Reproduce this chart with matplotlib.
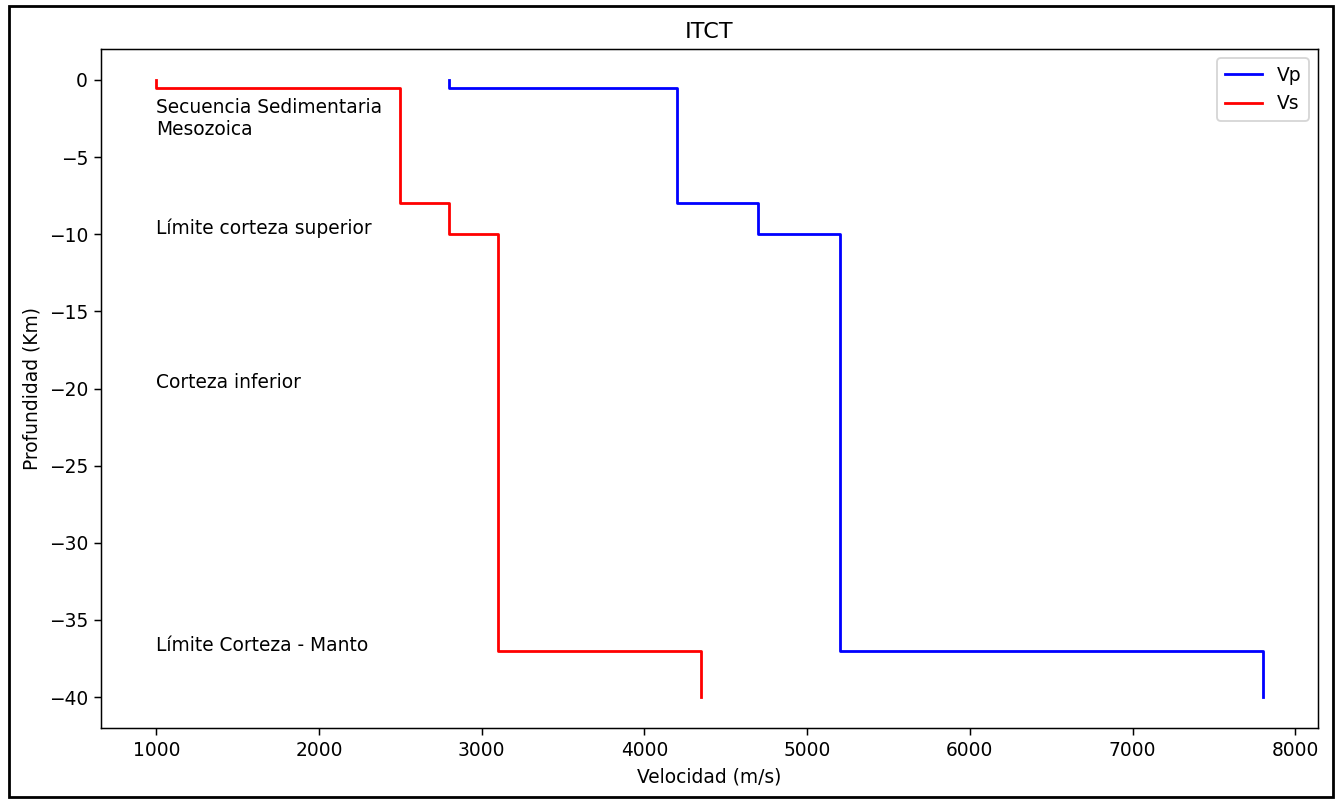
import matplotlib.pyplot as plt
import numpy as np
from matplotlib.patches import Rectangle

# Layer boundaries (km) and velocities (m/s)
profundidad = [0, -0.5, -8, -10, -37, -40]
vp = [2800, 4200, 4700, 5200, 7800]
vs = [1000, 2500, 2800, 3100, 4350]

etiquetas = ["Secuencia Sedimentaria\nMesozoica", "Límite corteza superior",
             "Corteza inferior", "Límite Corteza - Manto"]
etiquetas_y = [-3.6, -10, -20, -37]
etiquetas_x = 1000


def perfil(vel, prof):
    # step profile: each layer is a vertical segment at constant velocity
    x = np.repeat(vel, 2)
    y = np.column_stack([prof[:-1], prof[1:]]).ravel()
    return x, y


DPI = 134
fig = plt.figure(figsize=(1336 / DPI, 800 / DPI), dpi=DPI)
ax = fig.add_axes([101 / 1336, 1 - 728 / 800, (1318 - 101) / 1336, (728 - 49) / 800])

x, y = perfil(vp, profundidad)
ax.plot(x, y, color="blue", label="Vp")
x, y = perfil(vs, profundidad)
ax.plot(x, y, color="red", label="Vs")

for txt, yy in zip(etiquetas, etiquetas_y):
    ax.text(etiquetas_x, yy, txt)

ax.set_xlabel("Velocidad (m/s)")
ax.set_ylabel("Profundidad (Km)")
ax.set_title("ITCT")
ax.legend(loc="upper right")

# outer frame around the whole figure
fig.patches.append(Rectangle((9 / 1336, 3 / 800), (1333 - 9) / 1336, (794 - 3) / 800,
                             transform=fig.transFigure, fill=False,
                             edgecolor="black", linewidth=1.5))

fig.savefig("out.png", dpi=DPI)
